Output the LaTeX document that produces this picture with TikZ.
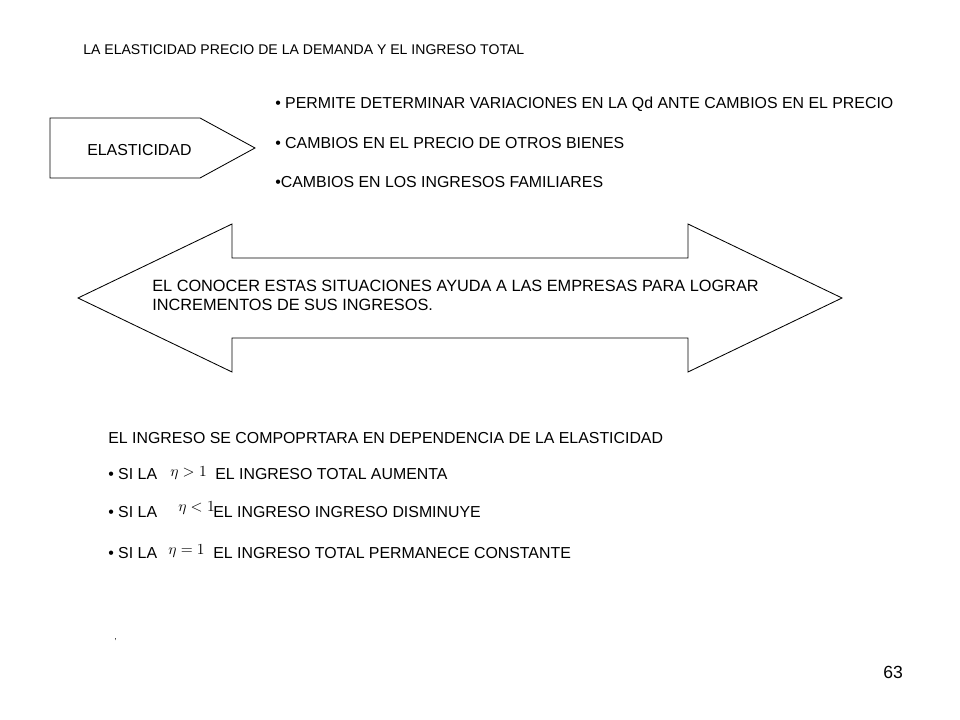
\documentclass[tikz,border=0pt]{standalone}
\usepackage{fontspec}
\setmainfont{Liberation Sans}
\begin{document}
\begin{tikzpicture}[x=0.025cm,y=-0.025cm,
  txt/.style={anchor=west,inner sep=0pt,font=\fontsize{11.3}{13}\selectfont},
  shp/.style={draw=black,line width=0.6pt,fill=white}]
\useasboundingbox (0,0) rectangle (960,720);
\node[txt,font=\fontsize{10}{12}\selectfont] (title) at (83,50) {LA ELASTICIDAD PRECIO DE LA DEMANDA Y EL INGRESO TOTAL};
\draw[shp] (50,118) -- (200,118) -- (255,148) -- (200,178) -- (50,178) -- cycle;
\node[txt] (el) at (87,150) {ELASTICIDAD};
\node[txt] (b1) at (275,104) {• PERMITE DETERMINAR VARIACIONES EN LA Qd ANTE CAMBIOS EN EL PRECIO};
\node[txt] (b2) at (275,143) {• CAMBIOS EN EL PRECIO DE OTROS BIENES};
\node[txt] (b3) at (275,182) {•CAMBIOS EN LOS INGRESOS FAMILIARES};
\draw[shp] (78,298) -- (232,224) -- (232,258) -- (688,258) -- (688,224) -- (842,298)
  -- (688,372) -- (688,338) -- (232,338) -- (232,372) -- cycle;
\node[txt,align=left,font=\fontsize{11.6}{13.5}\selectfont] (arr) at (152,295) {EL CONOCER ESTAS SITUACIONES AYUDA A LAS EMPRESAS PARA LOGRAR\\INCREMENTOS DE SUS INGRESOS.};
\node[txt] (l1) at (108,438) {EL INGRESO SE COMPOPRTARA EN DEPENDENCIA DE LA ELASTICIDAD};
\node[txt] (l2) at (108,474) {• SI LA};
\node[txt] (m2) at (170,473) {$\eta>1$};
\node[txt] (t2) at (215,474) {EL INGRESO TOTAL AUMENTA};
\node[txt] (l3) at (108,512) {• SI LA};
\node[txt] (m3) at (178,508) {$\eta<1$};
\node[txt] (t3) at (213,512) {EL INGRESO INGRESO DISMINUYE};
\node[txt] (l4) at (108,553) {• SI LA};
\node[txt] (m4) at (168,551) {$\eta=1$};
\node[txt] (t4) at (213,553) {EL INGRESO TOTAL PERMANECE CONSTANTE};
\node[txt,font=\fontsize{6}{6}\selectfont] (c) at (114,640) {,};
\node[txt,font=\fontsize{12.5}{14}\selectfont] (pg) at (883,672) {63};
\end{tikzpicture}
\end{document}
